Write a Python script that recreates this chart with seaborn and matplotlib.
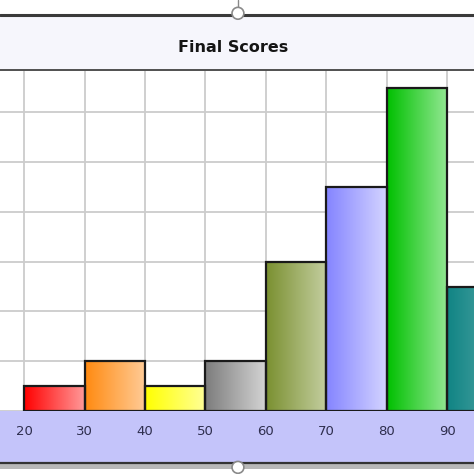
import numpy as np
import pandas as pd
import matplotlib
matplotlib.use("Agg")
import matplotlib.pyplot as plt
import seaborn as sns
from matplotlib.colors import LinearSegmentedColormap
from matplotlib.patches import Rectangle, Circle

# data
bin_edges = [20, 30, 40, 50, 60, 70, 80, 90, 100]
bin_starts = [20, 30, 40, 50, 60, 70, 80, 90]
counts = [1, 2, 1, 2, 6, 9, 13, 5]
tick_labels = ["20", "30", "40", "50", "60", "70", "80", "90"]
title = "Final Scores"

# left / right colour of each bar gradient
bar_colors = [
    ("#ff0000", "#ff9a9a"),
    ("#ff8a10", "#ffcc98"),
    ("#ffff00", "#ffff98"),
    ("#7c7c7c", "#d4d4d4"),
    ("#7a9030", "#c4cea0"),
    ("#8484ff", "#d4d4ff"),
    ("#00c000", "#94e894"),
    ("#108484", "#5aaaaa"),
]

sns.set_style("white")
plt.rcParams["font.family"] = ["DejaVu Sans"]

fig = plt.figure(figsize=(4.74, 4.74), dpi=100)
fig.patch.set_facecolor("white")

# title header box
fig.add_artist(Rectangle((0, 0.852), 1, 0.116, transform=fig.transFigure,
                         facecolor="#f6f6fc", edgecolor="none", zorder=0))
fig.add_artist(plt.Line2D([0, 1], [0.968, 0.968], transform=fig.transFigure,
                          color="#3a3a3a", lw=2.2))
fig.add_artist(plt.Line2D([0, 1], [0.852, 0.852], transform=fig.transFigure,
                          color="#505050", lw=1.4, zorder=5))
fig.text(0.492, 0.899, title, ha="center", va="center", fontsize=11.5,
         fontweight="bold", color="#151515")

# x-axis band
fig.add_artist(Rectangle((0, 0.025), 1, 0.108, transform=fig.transFigure,
                         facecolor="#c4c4fa", edgecolor="none", zorder=0))
fig.add_artist(plt.Line2D([0, 1], [0.024, 0.024], transform=fig.transFigure,
                          color="#333333", lw=1.6))
fig.add_artist(Rectangle((0, 0.01), 1, 0.013, transform=fig.transFigure,
                         facecolor="#b8b8b8", edgecolor="none", zorder=0))

# handles
fig.add_artist(plt.Line2D([0.502, 0.502], [0.985, 1.0], transform=fig.transFigure,
                          color="#888888", lw=1))
for cy in (0.972, 0.014):
    fig.add_artist(Circle((0.502, cy), 0.0125, transform=fig.transFigure,
                          facecolor="white", edgecolor="#8a8a8a", lw=1.2, zorder=10))

ax = fig.add_axes([0, 0.133, 1, 0.719])
ax.set_facecolor("white")

df = pd.DataFrame({"score": bin_starts, "count": counts})
sns.histplot(data=df, x="score", weights="count", bins=bin_edges, ax=ax,
             color="white", edgecolor="#1a1a1a", linewidth=1.6, alpha=1)

# gradient fill clipped to each bar
grad = np.linspace(0, 1, 256).reshape(1, -1)
for patch, (c0, c1) in zip(ax.patches, bar_colors):
    x0, y0 = patch.get_x(), patch.get_y()
    w, h = patch.get_width(), patch.get_height()
    cmap = LinearSegmentedColormap.from_list("g", [c0, c1])
    im = ax.imshow(grad, cmap=cmap, aspect="auto", extent=(x0, x0 + w, y0, y0 + h),
                   zorder=2, interpolation="bilinear")
    im.set_clip_path(patch)
    patch.set_facecolor("none")
    patch.set_zorder(3)

ax.set_xlim(16.2, 94.45)
ax.set_ylim(0, 13.7)
ax.set_xticks(bin_starts)
ax.set_xticklabels(tick_labels)
ax.set_xticks(np.arange(16, 95, 2), minor=True)
ax.set_yticks(np.arange(0, 14, 2))
ax.set_yticklabels([])
ax.grid(True, which="major", color="#cccccc", lw=1.3)
ax.set_axisbelow(True)
ax.tick_params(axis="x", which="both", direction="out", length=3, color="#8a8aa8",
               pad=7, labelsize=9.5, labelcolor="#2e2e4e")
ax.tick_params(axis="y", length=0)
ax.set_xlabel("")
ax.set_ylabel("")
for s in ax.spines.values():
    s.set_visible(False)

fig.savefig("out.png", dpi=100)
